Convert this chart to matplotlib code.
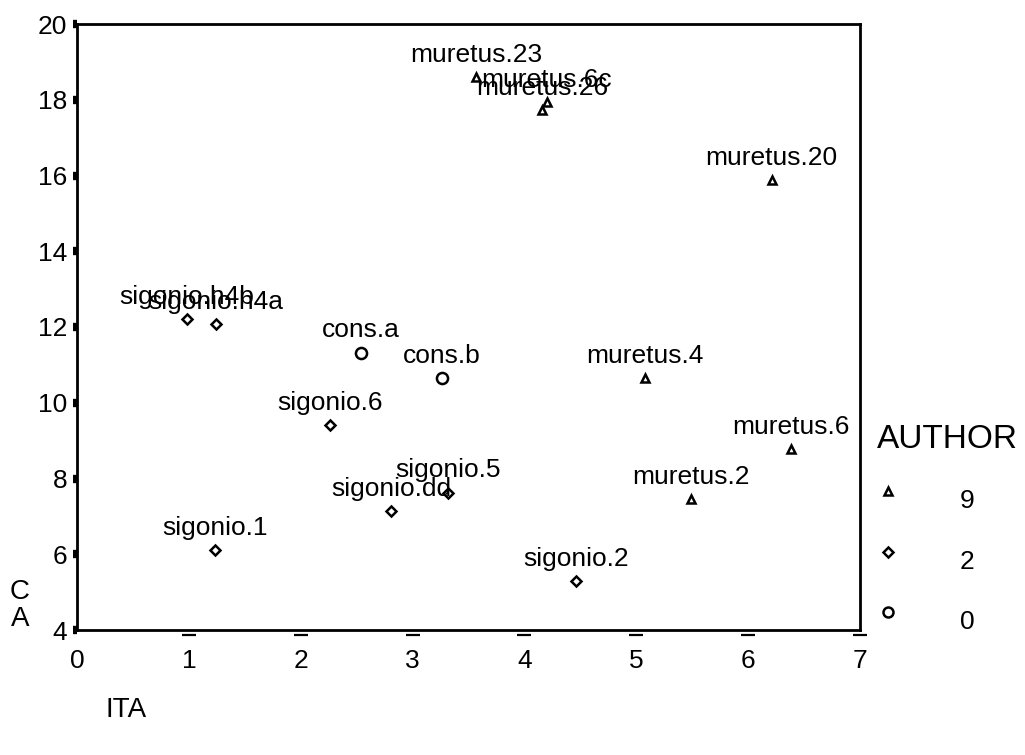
import matplotlib.pyplot as plt
from matplotlib.lines import Line2D

plt.rcParams['font.family'] = ['Liberation Sans', 'DejaVu Sans']

# punkty: etykieta, ITA, CA, AUTHOR
labels = ['muretus.23', 'muretus.6c', 'muretus.26', 'muretus.20', 'muretus.4',
          'muretus.6', 'muretus.2',
          'sigonio.h4b', 'sigonio.h4a', 'sigonio.6', 'sigonio.5', 'sigonio.dd',
          'sigonio.1', 'sigonio.2',
          'cons.a', 'cons.b']
ita = [3.57, 4.20, 4.16, 6.21, 5.08, 6.38, 5.49,
       0.98, 1.24, 2.26, 3.32, 2.81, 1.23, 4.46,
       2.54, 3.26]
ca = [18.60, 17.94, 17.73, 15.88, 10.65, 8.78, 7.46,
      12.20, 12.07, 9.41, 7.63, 7.14, 6.11, 5.29,
      11.32, 10.65]
author = [9, 9, 9, 9, 9, 9, 9,
          2, 2, 2, 2, 2, 2, 2,
          0, 0]

groups = [9, 2, 0]
markers = {9: '^', 2: 'D', 0: 'o'}
msizes = {9: 6, 2: 5.5, 0: 8}

fig = plt.figure(figsize=(10.25, 7.55), dpi=100)
ax = fig.add_axes([77 / 1025, 1 - 630 / 755, (860 - 77) / 1025, (630 - 24) / 755])

for g in groups:
    xs = [x for x, a in zip(ita, author) if a == g]
    ys = [y for y, a in zip(ca, author) if a == g]
    ax.plot(xs, ys, linestyle='none', marker=markers[g], markersize=msizes[g],
            markerfacecolor='white', markeredgecolor='black', markeredgewidth=1.8)

for lab, x, y in zip(labels, ita, ca):
    ax.annotate(lab, (x, y), xytext=(0, 11), textcoords='offset points',
                ha='center', va='baseline', fontsize=19, color='black')

ax.set_xlim(0, 7)
ax.set_ylim(4, 20)
ax.set_xticks(range(0, 8))
ax.set_yticks(range(4, 21, 2))
for s in ax.spines.values():
    s.set_linewidth(2)

ax.tick_params(axis='y', length=3, width=6, labelsize=19, pad=4)
ax.tick_params(axis='x', length=0, labelsize=19, pad=14)

# poziome kreski pod osia X (styl SPSS)
ax.plot(range(1, 8), [3.88] * 7, linestyle='none', marker='_', markersize=10,
        markeredgewidth=1.6, color='black', clip_on=False)

fig.text(20 / 1025, 1 - 592 / 755, 'C', fontsize=20, ha='center', va='center')
fig.text(20 / 1025, 1 - 619 / 755, 'A', fontsize=20, ha='center', va='center')
fig.text(105 / 1025, 1 - 710 / 755, 'ITA', fontsize=20, ha='left', va='center')

# legenda
fig.text(877 / 1025, 1 - 440 / 755, 'AUTHOR', fontsize=24, ha='left', va='center')
leg_y = [491, 552, 612]
for g, py in zip(groups, leg_y):
    fig.add_artist(Line2D([888 / 1025], [1 - py / 755], linestyle='none',
                          marker=markers[g], markersize=msizes[g] * 0.9,
                          markerfacecolor='white', markeredgecolor='black',
                          markeredgewidth=1.8, transform=fig.transFigure))
    fig.text(967 / 1025, 1 - (py + 10) / 755, str(g), fontsize=19,
             ha='center', va='center')

fig.savefig('out.png', dpi=100)
